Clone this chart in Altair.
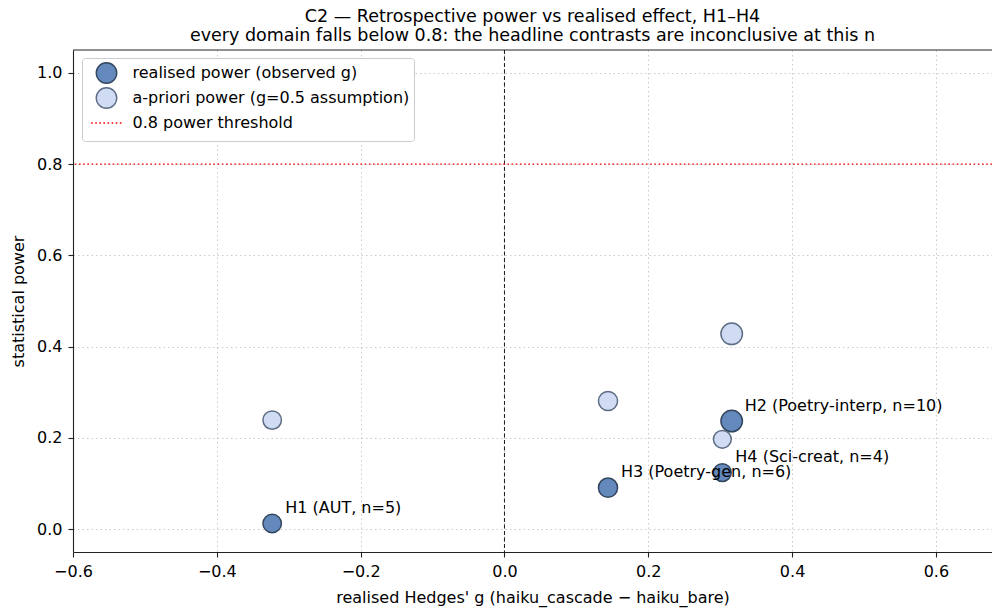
import altair as alt
import pandas as pd

# ---- data ----
HYP = ["H1", "H2", "H3", "H4"]
DOMAIN_NAME = ["AUT", "Poetry-interp", "Poetry-gen", "Sci-creat"]
N = [5, 10, 6, 4]
G_OBS = [-0.323, 0.316, 0.144, 0.303]
POWER_OBS = [0.0125, 0.237, 0.091, 0.124]
POWER_PRIOR = [0.239, 0.428, 0.281, 0.197]
THRESHOLD = [0.8]
ZERO = [0.0]
SERIES = ["realised power (observed g)",
          "a-priori power (g=0.5 assumption)",
          "0.8 power threshold"]
X_TICKS = [-0.6, -0.4, -0.2, 0.0, 0.2, 0.4, 0.6]
Y_TICKS = [0.0, 0.2, 0.4, 0.6, 0.8, 1.0]
X_DOMAIN = [-0.6, 0.678]
Y_DOMAIN = [-0.05, 1.05]

FONT = "DejaVu Sans"
DARK = "#6389bd"
LIGHT = "#d0dcf3"
EDGE_D = "#34465e"
EDGE_L = "#5d6d84"

rows = []
for h, d, n, g, p in zip(HYP, DOMAIN_NAME, N, G_OBS, POWER_OBS):
    rows.append({"hyp": h, "label": f"{h} ({d}, n={n})", "n": n, "g": g,
                 "power": p, "series": SERIES[0]})
for h, d, n, g, p in zip(HYP, DOMAIN_NAME, N, G_OBS, POWER_PRIOR):
    rows.append({"hyp": h, "label": f"{h} ({d}, n={n})", "n": n, "g": g,
                 "power": p, "series": SERIES[1]})
df = pd.DataFrame(rows)
df_real = df[df["series"] == SERIES[0]]

# dotted-line legend glyph (the invisible moves give it the same height as the circles)
DOT_PATH = "M0,-1M0,1 " + " ".join(
    f"M{-1.5 + i * 0.4:.2f},0H{-1.5 + i * 0.4 + 0.16:.2f}" for i in range(8))

xscale = alt.Scale(domain=X_DOMAIN, nice=False, zero=False)
yscale = alt.Scale(domain=Y_DOMAIN, nice=False, zero=False)

common_axis = dict(labelFontSize=16, titleFontSize=16, labelFont=FONT, titleFont=FONT,
                   labelColor="black", titleColor="black", titleFontWeight="normal",
                   tickSize=5, tickColor="#222222", domainColor="#222222",
                   tickWidth=1.1, domainWidth=1.1, labelPadding=6, titlePadding=10,
                   grid=True, gridDash=[1.5, 3], gridColor="#c4c4c4", gridWidth=0.9,
                   labelFlush=False, format=".1f")

xenc = alt.X("g:Q", scale=xscale,
             axis=alt.Axis(values=X_TICKS,
                           title="realised Hedges' g (haiku_cascade − haiku_bare)",
                           **common_axis))
yenc = alt.Y("power:Q", scale=yscale,
             axis=alt.Axis(values=Y_TICKS, title="statistical power", **common_axis))

points = alt.Chart(df).mark_point(opacity=1, strokeWidth=1.5).encode(
    x=xenc,
    y=yenc,
    fill=alt.Fill("series:N", scale=alt.Scale(domain=SERIES, range=[DARK, LIGHT, "transparent"]),
                  legend=alt.Legend(title=None, orient="none", legendX=9, legendY=8,
                                    padding=4, symbolOffset=9.5, labelOffset=15,
                                    rowPadding=-6, symbolSize=420, symbolStrokeWidth=1.4,
                                    labelFontSize=16, labelFont=FONT, labelColor="black",
                                    fillColor="white", strokeColor="#cccccc",
                                    cornerRadius=3, labelLimit=500)),
    stroke=alt.Stroke("series:N", scale=alt.Scale(domain=SERIES, range=[EDGE_D, EDGE_L, "red"])),
    shape=alt.Shape("series:N", scale=alt.Scale(domain=SERIES, range=["circle", "circle", DOT_PATH])),
    size=alt.Size("n:Q", scale=alt.Scale(domain=[4, 10], range=[317, 462]), legend=None),
)

labels = alt.Chart(df_real).mark_text(align="left", baseline="middle", dx=13, dy=-15.5,
                                      fontSize=16, font=FONT, color="black").encode(
    x=alt.X("g:Q"), y=alt.Y("power:Q"), text="label:N")

zero_line = alt.Chart(pd.DataFrame({"g": ZERO})).mark_rule(
    color="black", strokeDash=[4, 2.5], strokeWidth=0.9).encode(x="g:Q")

thr_line = alt.Chart(pd.DataFrame({"power": THRESHOLD})).mark_rule(
    color="red", strokeDash=[1.6, 2.6], strokeWidth=1.4).encode(y="power:Q")

top_border = alt.Chart(pd.DataFrame({"power": [Y_DOMAIN[1]]})).mark_rule(
    color="#222222", strokeWidth=1.1).encode(y="power:Q")

chart = alt.layer(zero_line, thr_line, top_border, points, labels).properties(
    width=919, height=502,
    autosize="none",
    padding={"left": 65, "top": 42, "right": 0, "bottom": 56},
    title=alt.TitleParams(
        text="C2 — Retrospective power vs realised effect, H1–H4",
        subtitle="every domain falls below 0.8: the headline contrasts are inconclusive at this n",
        fontSize=17.5, subtitleFontSize=17.5, font=FONT, subtitleFont=FONT,
        fontWeight="normal", color="black", subtitleColor="black",
        anchor="middle", offset=4.5, subtitlePadding=2),
).configure_view(stroke=None)

chart.save("out.html", embed_options={"renderer": "svg", "actions": False})
